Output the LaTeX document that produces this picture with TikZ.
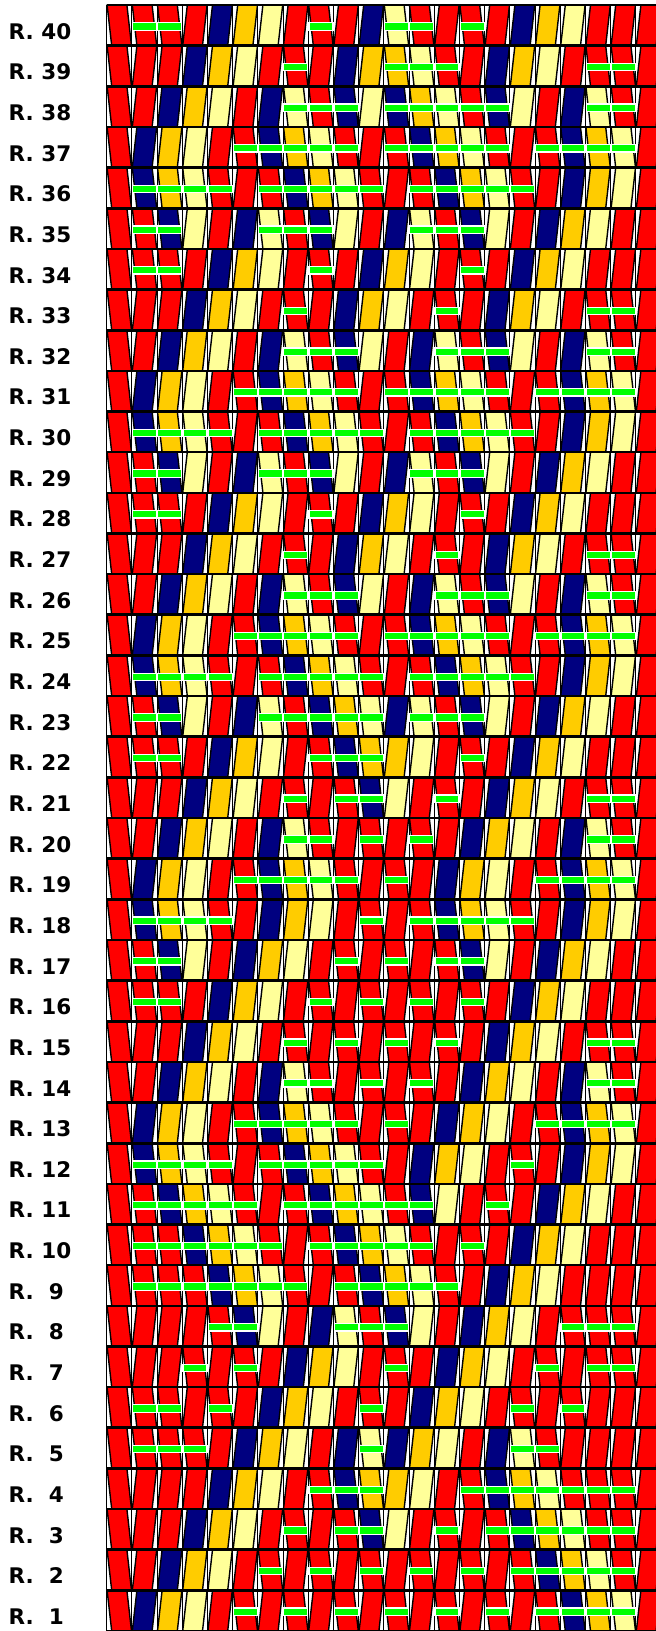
\documentclass[tikz,border=0pt]{standalone}
\usepackage{fontspec}
\newfontfamily\lblfont{DejaVu Sans}
\definecolor{cR}{HTML}{FF0000}
\definecolor{cN}{HTML}{000080}
\definecolor{cO}{HTML}{FFCC00}
\definecolor{cY}{HTML}{FFFF99}
\definecolor{cG}{HTML}{00FF00}
% token codes: upper case = "/" card, lower case = "\" card with green bar, B = "\" border card
\def\cellB{\def\mycol{cR}\def\myback{1}\def\mybar{0}}
\def\cellR{\def\mycol{cR}\def\myback{0}\def\mybar{0}}
\def\cellN{\def\mycol{cN}\def\myback{0}\def\mybar{0}}
\def\cellO{\def\mycol{cO}\def\myback{0}\def\mybar{0}}
\def\cellY{\def\mycol{cY}\def\myback{0}\def\mybar{0}}
\def\cellr{\def\mycol{cR}\def\myback{1}\def\mybar{1}}
\def\celln{\def\mycol{cN}\def\myback{1}\def\mybar{1}}
\def\cello{\def\mycol{cO}\def\myback{1}\def\mybar{1}}
\def\celly{\def\mycol{cY}\def\myback{1}\def\mybar{1}}
\tikzset{
  lbl/.style={font=\lblfont\bfseries\fontsize{21.5}{24}\selectfont, inner sep=0pt, anchor=base west},
  cellframe/.style={draw=black, line width=1.0pt, fill=white},
  card/.style={draw=black, line width=1.4pt, line join=round},
  gbar/.style={fill=cG, draw=white, line width=1.2pt},
  sepline/.style={draw=black, line width=2.6pt}
}
\begin{document}
\begin{tikzpicture}[x=1pt,y=-1pt]
\useasboundingbox (0,0) rectangle (656,1631);
\fill[white] (0,0) rectangle (656,1631);
\def\gx{106.7}\def\cw{25.2}\def\gy{5}\def\rh{40.65}\def\pw{19.8}\def\ins{0.4}
\foreach \r/\row in {
40/{B,r,r,R,N,O,Y,R,r,R,N,y,r,R,r,R,N,O,Y,R,R,R},
39/{B,R,R,N,O,Y,R,r,R,N,O,o,y,r,R,N,O,Y,R,r,r,R},
38/{B,R,N,O,Y,R,N,y,r,n,Y,n,o,y,r,n,Y,R,N,y,r,R},
37/{B,N,O,Y,R,r,n,o,y,r,R,r,n,o,y,r,R,r,n,o,y,R},
36/{B,n,o,y,r,R,r,n,o,y,r,R,r,n,o,y,r,R,N,O,Y,R},
35/{B,r,n,Y,R,N,y,r,n,Y,R,N,y,r,n,Y,R,N,O,Y,R,R},
34/{B,r,r,R,N,O,Y,R,r,R,N,O,Y,R,r,R,N,O,Y,R,R,R},
33/{B,R,R,N,O,Y,R,r,R,N,O,Y,R,r,R,N,O,Y,R,r,r,R},
32/{B,R,N,O,Y,R,N,y,r,n,Y,R,N,y,r,n,Y,R,N,y,r,R},
31/{B,N,O,Y,R,r,n,o,y,r,R,r,n,o,y,r,R,r,n,o,y,R},
30/{B,n,o,y,r,R,r,n,o,y,r,R,r,n,o,y,r,R,N,O,Y,R},
29/{B,r,n,Y,R,N,y,r,n,Y,R,N,y,r,n,Y,R,N,O,Y,R,R},
28/{B,r,r,R,N,O,Y,R,r,R,N,O,Y,R,r,R,N,O,Y,R,R,R},
27/{B,R,R,N,O,Y,R,r,R,N,O,Y,R,r,R,N,O,Y,R,r,r,R},
26/{B,R,N,O,Y,R,N,y,r,n,Y,R,N,y,r,n,Y,R,N,y,r,R},
25/{B,N,O,Y,R,r,n,o,y,r,R,r,n,o,y,r,R,r,n,o,y,R},
24/{B,n,o,y,r,R,r,n,o,y,r,R,r,n,o,y,r,R,N,O,Y,R},
23/{B,r,n,Y,R,N,y,r,n,o,y,N,y,r,n,Y,R,N,O,Y,R,R},
22/{B,r,r,R,N,O,Y,R,r,n,o,O,Y,R,r,R,N,O,Y,R,R,R},
21/{B,R,R,N,O,Y,R,r,R,r,n,Y,R,r,R,N,O,Y,R,r,r,R},
20/{B,R,N,O,Y,R,N,y,r,R,r,R,r,R,N,O,Y,R,N,y,r,R},
19/{B,N,O,Y,R,r,n,o,y,r,R,r,R,N,O,Y,R,r,n,o,y,R},
18/{B,n,o,y,r,R,N,O,Y,R,r,R,r,n,o,y,r,R,N,O,Y,R},
17/{B,r,n,Y,R,N,O,Y,R,r,R,r,R,r,n,Y,R,N,O,Y,R,R},
16/{B,r,r,R,N,O,Y,R,r,R,r,R,r,R,r,R,N,O,Y,R,R,R},
15/{B,R,R,N,O,Y,R,r,R,r,R,r,R,r,R,N,O,Y,R,r,r,R},
14/{B,R,N,O,Y,R,N,y,r,R,r,R,r,R,N,O,Y,R,N,y,r,R},
13/{B,N,O,Y,R,r,n,o,y,r,R,r,R,N,O,Y,R,r,n,o,y,R},
12/{B,n,o,y,r,R,r,n,o,y,r,R,N,O,Y,R,r,R,N,O,Y,R},
11/{B,r,n,o,y,r,R,r,n,o,y,r,n,Y,R,r,R,N,O,Y,R,R},
10/{B,r,r,n,o,y,r,R,r,n,o,y,r,R,r,R,N,O,Y,R,R,R},
9/{B,r,r,r,n,o,y,r,R,r,n,o,y,r,R,N,O,Y,R,R,R,R},
8/{B,R,R,R,r,n,Y,R,N,y,r,n,Y,R,N,O,Y,R,r,r,r,R},
7/{B,R,R,r,R,r,R,N,O,Y,R,r,R,N,O,Y,R,r,R,r,r,R},
6/{B,r,r,R,r,R,N,O,Y,R,r,R,N,O,Y,R,r,R,r,R,R,R},
5/{B,r,r,r,R,N,O,Y,R,N,y,N,O,Y,R,N,y,r,R,R,R,R},
4/{B,R,R,R,N,O,Y,R,r,n,o,O,Y,R,r,n,o,y,r,r,r,R},
3/{B,R,R,N,O,Y,R,r,R,r,n,Y,R,r,R,r,n,o,y,r,r,R},
2/{B,R,N,O,Y,R,r,R,r,R,r,R,r,R,r,R,r,n,o,y,r,R},
1/{B,N,O,Y,R,r,R,r,R,r,R,r,R,r,R,r,R,r,n,o,y,R}} {
  \pgfmathsetmacro\qyt{\gy+(40-\r)*\rh}
  \pgfmathsetmacro\qyb{\qyt+\rh}
  \pgfmathsetmacro\qyc{\qyt+\rh/2}
  \node[lbl] (lbl\r) at (8.5,\qyc+13.8) {\ifnum\r<10 R.\ \ \r\else R.\ \r\fi};
  \foreach \t [count=\i] in \row {
    \pgfmathsetmacro\qxl{\gx+(\i-1)*\cw}
    \csname cell\t\endcsname
    \draw[cellframe] (\qxl,\qyt) rectangle ++(\cw,\rh);
    \ifnum\myback=1
      \filldraw[card, fill=\mycol] (\qxl+\ins,\qyt) -- (\qxl+\ins+\pw,\qyt) -- (\qxl+\cw-\ins,\qyb) -- (\qxl+\cw-\ins-\pw,\qyb) -- cycle;
    \else
      \filldraw[card, fill=\mycol] (\qxl+\ins,\qyb) -- (\qxl+\ins+\pw,\qyb) -- (\qxl+\cw-\ins,\qyt) -- (\qxl+\cw-\ins-\pw,\qyt) -- cycle;
    \fi
  }
  \foreach \t [count=\i] in \row {
    \pgfmathsetmacro\qxl{\gx+(\i-1)*\cw}
    \csname cell\t\endcsname
    \ifnum\mybar=1
      \filldraw[gbar] (\qxl+0.7,\qyc-2.6) rectangle (\qxl+\cw-0.6,\qyc+4.8);
    \fi
  }
}
\foreach \k in {0,...,40} {
  \draw[sepline] (\gx,\gy+\k*\rh) -- (662,\gy+\k*\rh);
}
\end{tikzpicture}
\end{document}
